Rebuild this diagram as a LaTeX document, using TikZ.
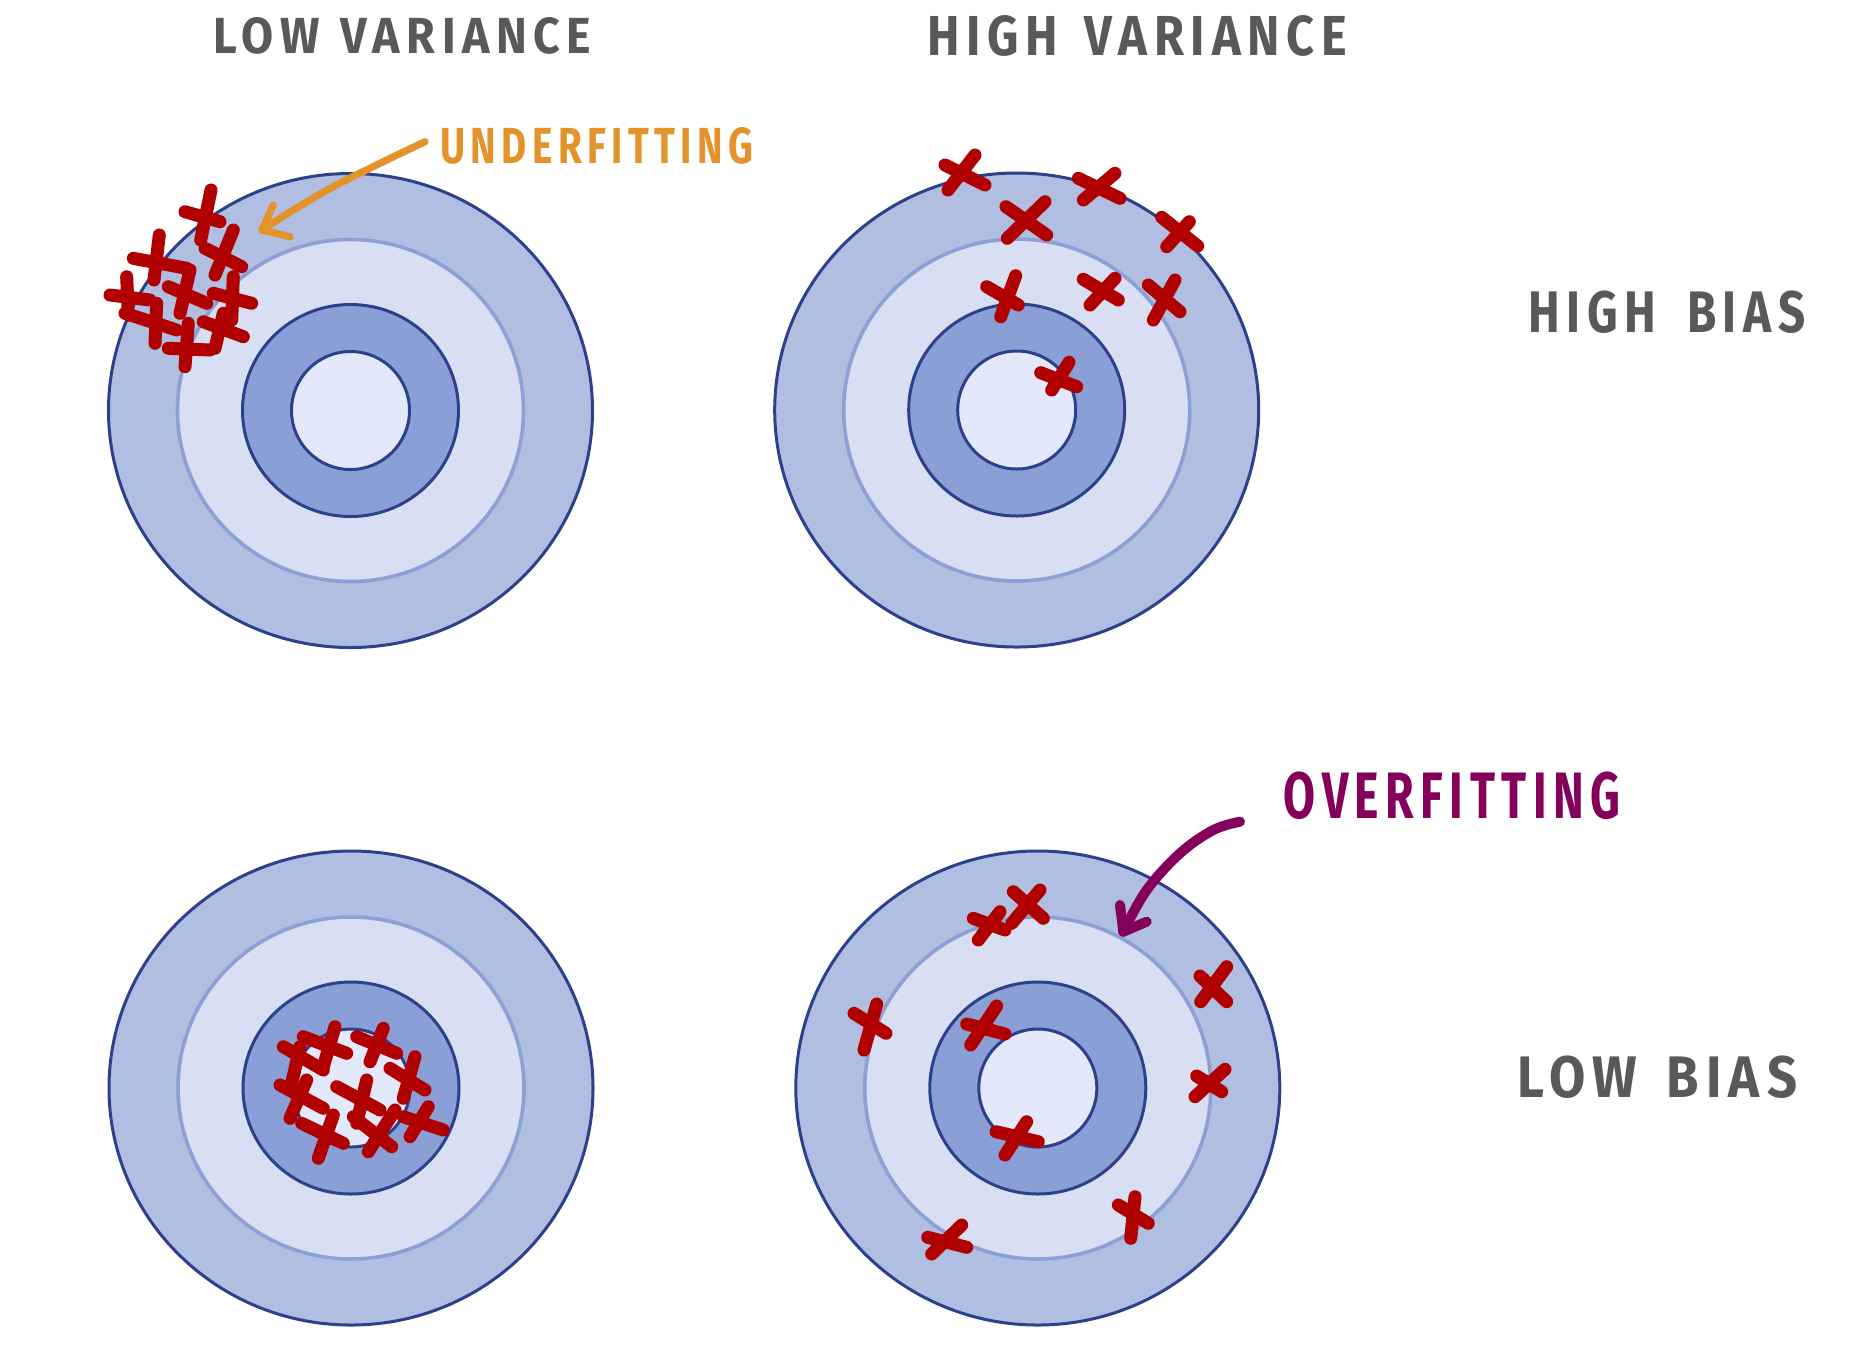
\documentclass[tikz,border=0pt]{standalone}
\usepackage{fontspec}
\setmainfont{Fira Sans}
\newfontfamily\handfont[LetterSpace=14]{Fira Sans}
\usepackage{graphicx}
\definecolor{outerfill}{RGB}{175,190,225}
\definecolor{twofill}{RGB}{216,223,242}
\definecolor{threefill}{RGB}{138,159,214}
\definecolor{innerfill}{RGB}{227,233,251}
\definecolor{darkring}{RGB}{45,64,140}
\definecolor{lightring}{RGB}{140,160,215}
\definecolor{crossred}{RGB}{176,0,0}
\definecolor{labelgray}{RGB}{89,89,89}
\definecolor{uorange}{RGB}{227,147,42}
\definecolor{opurple}{RGB}{133,0,90}
\newcommand\drawtarget[1]{%
  \draw[ringouter] (#1) ellipse [x radius=121pt, y radius=118.5pt];
  \draw[ringtwo] (#1) ellipse [x radius=86.5pt, y radius=85.5pt];
  \draw[ringthree] (#1) ellipse [x radius=54pt, y radius=53pt];
  \draw[ringinner] (#1) circle [radius=29.5pt];
}
\begin{document}
\begin{tikzpicture}[x=0.5pt,y=-0.5pt,
  ringouter/.style={fill=outerfill, draw=darkring, line width=1.5pt},
  ringtwo/.style={fill=twofill, draw=lightring, line width=1.8pt},
  ringthree/.style={fill=threefill, draw=darkring, line width=1.5pt},
  ringinner/.style={fill=innerfill, draw=darkring, line width=1.5pt},
  xline/.style={draw=crossred, line width=6.5pt, line cap=round, line join=round},
  uarrow/.style={draw=uorange, line width=3.6pt, line cap=round, line join=round},
  oarrow/.style={draw=opurple, line width=5pt, line cap=round, line join=round},
  lbl/.style={inner sep=0pt, anchor=north west, font=\handfont\bfseries},
]
\useasboundingbox[fill=white] (0,0) rectangle (1858,1346);

% target centres
\coordinate (tl) at (350.5,410.5);
\coordinate (tr) at (1016.7,410);
\coordinate (bl) at (351,1088);
\coordinate (br) at (1037.8,1088);
\drawtarget{tl}
\drawtarget{tr}
\drawtarget{bl}
\drawtarget{br}

% labels
\node[lbl, text=labelgray] (lowvar) at (213,17) {\resizebox{188.9pt}{18pt}{LOW\hspace{0.45em}VARIANCE}};
\node[lbl, text=labelgray] (highvar) at (926.7,15) {\resizebox{210pt}{20pt}{HIGH\hspace{0.55em}VARIANCE}};
\node[lbl, text=labelgray] (highbias) at (1528,290) {\resizebox{138.5pt}{20.8pt}{HIGH\hspace{0.65em}BIAS}};
\node[lbl, text=labelgray] (lowbias) at (1516.7,1055) {\resizebox{140pt}{20.8pt}{LOW\hspace{0.55em}BIAS}};
\node[lbl, text=uorange] (under) at (440,127) {\resizebox{156.5pt}{18pt}{UNDERFITTING}};
\node[lbl, text=opurple] (over) at (1283.3,771.7) {\resizebox{168.3pt}{23.3pt}{OVERFITTING}};

% underfitting arrow
\coordinate (us) at (425,141.7);
\coordinate (ut) at (262,230);
\draw[uarrow] plot[smooth, tension=0.6] coordinates {(us) (383.3,161.7) (333.3,186.7) (293.3,210) (ut)};
\draw[uarrow] (273.3,205) -- (ut) -- (290,236.7);

% overfitting arrow
\coordinate (os) at (1240,821.7);
\coordinate (ot) at (1123.3,931.7);
\draw[oarrow] plot[smooth, tension=0.6] coordinates {(os) (1213.3,830) (1180,853.3) (1146.7,890) (ot)};
\draw[oarrow] (1120,905) -- (ot) -- (1146.7,921.7);

% crosses: top-left cluster
\draw[xline] (211,190)--(200.7,240) (185,211.7)--(220,221.7);
\draw[xline] (233.3,230)--(215,275) (205,248.3)--(241.7,266.7);
\draw[xline] (159.3,235)--(154,280) (133.3,258.3)--(186.7,268.3);
\draw[xline] (190,270)--(180,313.3) (168.3,286.7)--(206.7,303.3);
\draw[xline] (126.7,276.7)--(128.3,315) (110,295)--(150,300);
\draw[xline] (233.3,276.7)--(231.7,320) (213.3,293.3)--(251.7,303.3);
\draw[xline] (156.7,303.3)--(155,343.3) (125,313.3)--(176.7,330);
\draw[xline] (223.3,313.3)--(215,348.3) (203.3,321.7)--(243.3,336.7);
\draw[xline] (188.3,323.3)--(185,366.7) (168.3,348.3)--(210,350);

% crosses: top-right
\draw[xline] (975,155)--(948,190) (945,165)--(985,185);
\draw[xline] (1045,201.7)--(1007.3,238.3) (1006,206.7)--(1046.7,235);
\draw[xline] (1115,173.3)--(1083.3,200) (1078.3,178.3)--(1120,198.3);
\draw[xline] (1189.3,221.7)--(1166.7,246.7) (1161.7,217.3)--(1197.7,246);
\draw[xline] (1015.7,275.7)--(1000.7,316.7) (986.7,286.7)--(1018.3,305);
\draw[xline] (1115,278.3)--(1090,305) (1083.3,279.3)--(1118.3,300);
\draw[xline] (1175,280)--(1153.3,320) (1148.3,285)--(1180,311.7);
\draw[xline] (1069,362.3)--(1051.7,390) (1040.7,372.7)--(1076.7,386.7);

% crosses: bottom-left cluster
\draw[xline] (335,1026.7)--(323.3,1066.7) (303.3,1036.7)--(346.7,1053.3);
\draw[xline] (300,1046.7)--(291.7,1083.3) (283.3,1046.7)--(323.3,1070);
\draw[xline] (383.3,1028.3)--(370,1061.7) (356.7,1036.7)--(396.7,1053.3);
\draw[xline] (415,1056.7)--(403.3,1098.3) (390,1068.3)--(425,1090);
\draw[xline] (306.7,1080)--(290,1118.3) (280,1085)--(323.3,1108.3);
\draw[xline] (366.7,1080)--(356.7,1123.3) (336.7,1086.7)--(380,1110);
\draw[xline] (333.3,1115)--(318.3,1158.3) (301.7,1123.3)--(343.3,1143.3);
\draw[xline] (395,1110)--(368.3,1151.7) (353.3,1116.7)--(391.7,1146.7);
\draw[xline] (428.3,1106.7)--(410,1136.7) (403.3,1116.7)--(443.3,1130);

% crosses: bottom-right
\draw[xline] (1000,911.7)--(978.3,940) (973.3,918.3)--(1005,930);
\draw[xline] (1040,890)--(1011.7,923.3) (1013.3,891.7)--(1043.3,918.3);
\draw[xline] (876.7,1004)--(864,1050) (854,1013.3)--(886,1033.3);
\draw[xline] (996.7,1006)--(970.7,1045) (966.7,1024)--(1005,1034);
\draw[xline] (1226.7,966.7)--(1200.7,1001.7) (1200,976)--(1226.7,1001.7);
\draw[xline] (1225,1069.3)--(1195,1096.7) (1196.7,1076)--(1221.7,1091.7);
\draw[xline] (1026.7,1121.7)--(1005,1155) (996,1131.7)--(1038.3,1141.7);
\draw[xline] (1135,1196.7)--(1130.7,1238.3) (1118.3,1205)--(1148.3,1223.3);
\draw[xline] (961.7,1225)--(931.7,1254) (927.7,1237.3)--(966.7,1247.3);
\end{tikzpicture}
\end{document}
